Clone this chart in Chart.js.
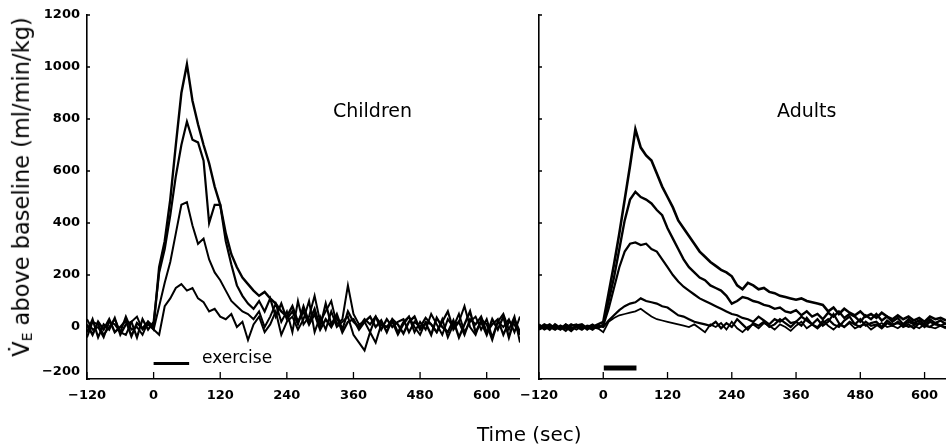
<!DOCTYPE html>
<html>
<head>
<meta charset="utf-8">
<script src="https://cdn.jsdelivr.net/npm/chart.js@4.4.1/dist/chart.umd.min.js"></script>
<style>
  body { margin: 0; background: #fff; width: 946px; height: 446px; overflow: hidden; position: relative; font-family: "DejaVu Sans", sans-serif; color: #000; }
  canvas { position: absolute; top: 0; }
  #leftChart { left: 0; width: 520px; height: 446px; }
  #rightChart { left: 520px; width: 426px; height: 446px; }
  .lbl { position: absolute; white-space: nowrap; line-height: 1; }
  #ytitle { position: absolute; left: 22px; top: 187px; transform: translate(-50%, -50%) rotate(-90deg); font-size: 22.5px; white-space: nowrap; line-height: 1.2; }
  #ytitle sub { font-size: 0.62em; vertical-align: -0.25em; }
</style>
</head>
<body>
<canvas id="leftChart" width="520" height="446"></canvas>
<canvas id="rightChart" width="426" height="446"></canvas>
<div id="ytitle">V&#775;<sub>E</sub> above baseline (ml/min/kg)</div>
<div class="lbl" style="left:333px;top:101px;font-size:19px">Children</div>
<div class="lbl" style="left:777px;top:101px;font-size:19px">Adults</div>
<div class="lbl" style="left:202px;top:349px;font-size:17px">exercise</div>
<div class="lbl" style="left:477px;top:424px;font-size:20px">Time (sec)</div>
<script>
// time axis, seconds (10 s steps)
const times = [-120, -110, -100, -90, -80, -70, -60, -50, -40, -30, -20, -10,
  0, 10, 20, 30, 40, 50, 60, 70, 80, 90, 100, 110, 120, 130, 140, 150, 160, 170,
  180, 190, 200, 210, 220, 230, 240, 250, 260, 270, 280, 290, 300, 310, 320, 330,
  340, 350, 360, 370, 380, 390, 400, 410, 420, 430, 440, 450, 460, 470, 480, 490,
  500, 510, 520, 530, 540, 550, 560, 570, 580, 590, 600, 610, 620, 630, 640, 650, 660];

const xTickValues = [-120, 0, 120, 240, 360, 480, 600];
const yTickValues = [-200, 0, 200, 400, 600, 800, 1000, 1200];

// exercise bar: start / end (sec) and level
const exerciseChildren = [0, 64];
const exerciseAdults = [1, 62];
const exerciseLevelChildren = -140;
const exerciseLevelAdults = -158;

// Children, VE above baseline (ml/min/kg)
const child1 = [10, -30, 20, -10, 30, -20, 0, 25, -35, 15, -5, 20,
  0, 230, 330, 490, 700, 900, 1010, 870, 780, 700, 630, 540, 470, 360, 280, 230, 190, 165,
  140, 120, 135, 110, 90, 60, 40, 80, 20, 60, 10, 50, -10, 30, 0, 40,
  -20, 20, 30, -10, 20, 40, 0, 25, -20, 30, 10, -25, 20, 40, -10, 15,
  -30, 35, 0, -20, 25, -40, 10, 60, -20, 20, -30, 30, -10, 40, -40, 30, -20];
const child2 = [-20, 30, -40, 10, -10, 35, -30, 10, 20, -40, 30, -10,
  20, 210, 300, 430, 580, 700, 790, 720, 710, 640, 400, 470, 470, 330, 240, 160, 120, 90,
  70, 100, 60, 110, 40, 90, 30, 60, 10, 80, 20, 70, 0, 90, 10, 50,
  -10, 60, 20, 0, 30, 10, 40, -10, 30, 0, 20, 30, -20, 20, 0, 35,
  10, -20, 20, 60, -10, 20, -30, 30, 10, 40, -20, 10, 30, -30, 20, 10, -30];
const child3 = [30, -10, 0, -40, 20, 10, -20, 40, -10, 0, -30, 20,
  -10, 80, 170, 250, 360, 470, 480, 390, 320, 340, 260, 210, 180, 140, 100, 80, 60, 50,
  30, 60, 0, 40, 90, 20, 60, -20, 100, 10, 40, 120, 20, 60, 100, 10,
  30, 160, 50, 10, 20, -20, 40, 10, 0, 20, -30, 10, 40, -20, 20, -10,
  50, 10, -30, 30, 0, 50, -20, 20, 40, -10, 30, -40, 20, 0, 30, -20, 40];
const child4 = [-40, 20, 10, -30, 0, 30, -20, -30, 20, 40, -10, 10,
  -10, -30, 80, 110, 150, 165, 140, 150, 110, 95, 60, 70, 40, 30, 50, 0, 20, -50,
  10, 40, -20, 10, 60, -30, 20, 40, -10, 30, 100, -20, 40, -10, 60, 0,
  20, 40, -30, -60, -90, -20, -60, 10, 0, 30, -20, 20, 40, 0, -30, 20,
  10, -20, 30, -40, 10, 20, 80, 0, -30, 30, 10, -50, 20, 50, -10, 40, -60];

// Adults, VE above baseline (ml/min/kg)
const adult1 = [0, 5, -10, 10, -5, 0, -15, 5, 10, -5, 0, 10,
  20, 130, 240, 360, 490, 620, 760, 690, 660, 640, 590, 540, 500, 460, 410, 380, 350, 320,
  290, 270, 250, 235, 220, 210, 195, 160, 145, 170, 160, 145, 150, 135, 130, 120,
  115, 110, 105, 110, 100, 95, 90, 85, 60, 75, 50, 70, 55, 45, 60, 40,
  50, 35, 55, 40, 30, 45, 30, 40, 25, 35, 20, 40, 30, 35, 25, 30, 20];
const adult2 = [-5, 10, 0, -10, 5, -5, 10, 0, -10, 5, 0, -5,
  10, 100, 190, 300, 410, 490, 520, 500, 490, 475, 450, 430, 380, 340, 300, 260, 230, 210,
  190, 180, 160, 150, 140, 120, 90, 100, 115, 110, 100, 95, 85, 80, 70, 75,
  60, 55, 65, 45, 60, 40, 50, 30, 55, 40, 60, 35, 50, 40, 20, 45,
  30, 50, 25, 40, 20, 35, 10, 30, 15, 25, 10, 30, 15, 25, 10, 20, 15];
const adult3 = [10, -5, 5, 0, -10, 10, -5, 0, 5, -10, 5, 0,
  5, 70, 150, 230, 290, 320, 325, 315, 320, 300, 290, 260, 230, 200, 175, 155, 140, 125,
  110, 100, 90, 80, 70, 60, 50, 45, 35, 30, 20, 40, 25, 10, 30, 20,
  35, 15, 20, 40, 25, 10, 30, 5, 20, 50, 15, 0, 20, 10, 30, 5,
  15, 20, 0, 25, 10, 15, 5, 20, 10, 15, 0, 20, 10, 5, 15, 0, 10];
const adult4 = [-10, 0, 10, -5, 0, -15, 5, 10, -5, 0, -10, 5,
  0, 25, 45, 65, 80, 90, 95, 110, 100, 95, 90, 80, 75, 60, 45, 40, 30, 20,
  15, 10, 5, 20, -5, 15, 0, 30, 10, -10, 15, 5, 20, 0, 10, 30,
  15, 0, 20, 5, 35, 10, -5, 15, 30, 10, 0, 25, 40, 10, 0, 20,
  5, 10, -5, 15, 5, 20, 0, 10, -5, 15, 5, 0, 15, 5, -5, 10, 0];
const adult5 = [5, -10, 0, 5, -5, 10, 0, -10, 5, 0, 10, -5,
  -20, 20, 35, 45, 50, 55, 60, 70, 55, 40, 30, 25, 20, 15, 10, 5, 0, 10,
  -5, -20, 10, 0, 15, -10, 20, -5, -20, 0, 10, -5, 15, 5, -10, 10,
  0, -15, 5, 20, -5, 10, 0, 25, 5, -10, 10, 0, 15, -5, 5, 10,
  -10, 5, 15, 0, 5, -5, 10, 0, 5, -5, 10, 0, -5, 5, 0, 10, -5];

const childSeries = [child1, child2, child3, child4];
const adultSeries = [adult1, adult2, adult3, adult4, adult5];
const childWidths = [2.4, 2.2, 2, 2];
const adultWidths = [2.6, 2.4, 2.2, 2.2, 1.8];

const tickFont = { family: "DejaVu Sans", size: 13, weight: "bold" };

function fmt(v) {
  return v < 0 ? "\u2212" + Math.abs(v) : String(v);
}

function toPoints(values) {
  return values.map((v, i) => ({ x: times[i], y: v }));
}

// small tick marks drawn inside the plot, like the original
const inwardTicks = {
  id: "inwardTicks",
  afterDraw(chart) {
    const { ctx, chartArea, scales } = chart;
    ctx.save();
    ctx.strokeStyle = "#000";
    ctx.lineWidth = 1.3;
    ctx.beginPath();
    scales.x.ticks.forEach(t => {
      const px = scales.x.getPixelForValue(t.value);
      ctx.moveTo(px, chartArea.bottom);
      ctx.lineTo(px, chartArea.bottom - 7);
    });
    scales.y.ticks.forEach(t => {
      const py = scales.y.getPixelForValue(t.value);
      ctx.moveTo(chartArea.left, py);
      ctx.lineTo(chartArea.left + 3, py);
    });
    ctx.stroke();
    ctx.restore();
  }
};

function makeChart(id, series, widths, xMax, yAxisWidth, showYLabels, exercise, exLevel, exWidth) {
  const datasets = series.map((s, i) => ({
    data: toPoints(s),
    borderColor: "#000",
    borderWidth: widths[i],
    pointRadius: 0,
    tension: 0,
    fill: false
  }));
  datasets.push({
    data: exercise.map(t => ({ x: t, y: exLevel })),
    borderColor: "#000",
    borderWidth: exWidth,
    borderCapStyle: "butt",
    pointRadius: 0
  });
  return new Chart(document.getElementById(id), {
    type: "line",
    data: { datasets: datasets },
    options: {
      responsive: false,
      animation: false,
      events: [],
      layout: { padding: { top: 15, right: 0, bottom: 0, left: 0 } },
      plugins: { legend: { display: false }, tooltip: { enabled: false } },
      scales: {
        x: {
          type: "linear",
          min: -120,
          max: xMax,
          afterBuildTicks: s => { s.ticks = xTickValues.map(v => ({ value: v })); },
          afterFit: s => { s.height = 67; s.paddingLeft = 0; s.paddingRight = 0; },
          grid: { display: false, drawTicks: false },
          border: { display: true, color: "#000", width: 1.6 },
          ticks: { color: "#000", font: tickFont, padding: 9, maxRotation: 0, autoSkip: false, callback: v => fmt(v) }
        },
        y: {
          min: -200,
          max: 1200,
          afterBuildTicks: s => { s.ticks = yTickValues.map(v => ({ value: v })); },
          afterFit: s => { s.width = yAxisWidth; s.paddingTop = 0; s.paddingBottom = 0; },
          grid: { display: false, drawTicks: false },
          border: { display: true, color: "#000", width: 1.6 },
          ticks: {
            display: showYLabels, color: "#000", font: tickFont, padding: 7,
            callback: v => (v === -200 ? [fmt(v), ""] : fmt(v))
          }
        }
      }
    },
    plugins: [inwardTicks]
  });
}

makeChart("leftChart", childSeries, childWidths, 660, 87, true, exerciseChildren, exerciseLevelChildren, 3);
makeChart("rightChart", adultSeries, adultWidths, 640, 19, false, exerciseAdults, exerciseLevelAdults, 5);
</script>
</body>
</html>
